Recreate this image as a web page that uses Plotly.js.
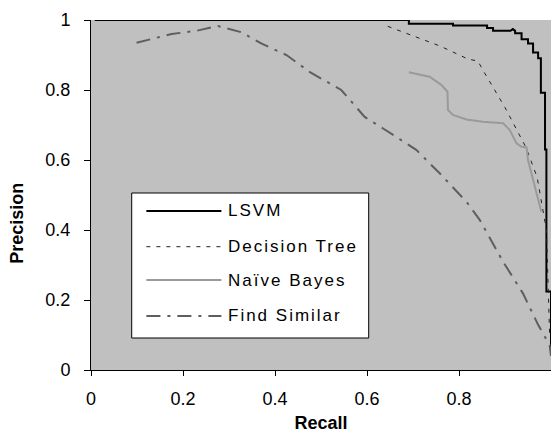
<!DOCTYPE html>
<html>
<head>
<meta charset="utf-8">
<script src="https://cdn.plot.ly/plotly-3.0.1.min.js"></script>
<style>
html,body{margin:0;padding:0;background:#fff;}
#chart{width:551px;height:433px;}
</style>
</head>
<body>
<div id="chart"></div>
<script>
// ---- data ----
const seriesNames = ["LSVM", "Decision Tree", "Naïve Bayes", "Find Similar"];

const lsvmRecall    = [0.008, 0.691, 0.691, 0.787, 0.787, 0.861, 0.861, 0.874, 0.874, 0.912, 0.917, 0.922, 0.922, 0.936, 0.936, 0.950, 0.950, 0.961, 0.961, 0.972, 0.972, 0.978, 0.978, 0.987, 0.987, 0.990, 0.990, 1.000, 1.000];
const lsvmPrecision = [1.000, 1.000, 0.989, 0.989, 0.984, 0.984, 0.977, 0.977, 0.969, 0.969, 0.974, 0.969, 0.962, 0.962, 0.945, 0.945, 0.933, 0.933, 0.907, 0.907, 0.891, 0.891, 0.792, 0.792, 0.630, 0.630, 0.224, 0.224, 0.050];

const dtRecall    = [0.645, 0.700, 0.760, 0.820, 0.841, 0.851, 0.900, 0.946, 0.970, 0.990, 0.997];
const dtPrecision = [0.982, 0.955, 0.925, 0.888, 0.883, 0.859, 0.750, 0.635, 0.550, 0.400, 0.100];

const nbRecall    = [0.691, 0.736, 0.762, 0.775, 0.776, 0.787, 0.816, 0.852, 0.896, 0.910, 0.925, 0.936, 0.947, 0.950, 0.979];
const nbPrecision = [0.851, 0.838, 0.814, 0.795, 0.743, 0.729, 0.716, 0.709, 0.705, 0.686, 0.648, 0.638, 0.636, 0.600, 0.452];

const fsRecall    = [0.099, 0.128, 0.175, 0.229, 0.276, 0.327, 0.370, 0.425, 0.476, 0.544, 0.595, 0.635, 0.707, 0.758, 0.816, 0.845, 0.896, 0.939, 0.972, 0.997, 1.000];
const fsPrecision = [0.935, 0.945, 0.960, 0.969, 0.983, 0.965, 0.933, 0.900, 0.851, 0.800, 0.723, 0.690, 0.629, 0.562, 0.481, 0.429, 0.309, 0.219, 0.129, 0.071, 0.040];

const tickVals   = [0, 0.2, 0.4, 0.6, 0.8, 1];
const tickLabels = ["0", "0.2", "0.4", "0.6", "0.8", "1"];
const xTitle = "Recall";
const yTitle = "Precision";

// ---- styles ----
const FONT = "'Liberation Sans', Arial, sans-serif";
const styles = [
  {color: "#000000", width: 2,   dash: "solid"},
  {color: "#222222", width: 1,   dash: "4px,6px"},
  {color: "#9a9a9a", width: 2,   dash: "solid"},
  {color: "#5e5e5e", width: 2,   dash: "14px,7px,3px,7px"}
];

const xs = [lsvmRecall, dtRecall, nbRecall, fsRecall];
const ys = [lsvmPrecision, dtPrecision, nbPrecision, fsPrecision];

const traces = seriesNames.map((n, i) => ({
  type: "scatter", mode: "lines", name: n,
  x: xs[i], y: ys[i],
  line: {color: styles[i].color, width: styles[i].width, dash: styles[i].dash},
  showlegend: false, hoverinfo: "skip"
}));

// manual legend (box, line samples, labels) in paper coordinates
const legBox = {x0: 0.0885, x1: 0.6037, y0: 0.0914, y1: 0.5057};
const legRows = [0.4543, 0.3523, 0.2571, 0.1543];
const shapes = [{
  type: "rect", xref: "paper", yref: "paper",
  x0: legBox.x0, x1: legBox.x1, y0: legBox.y0, y1: legBox.y1,
  fillcolor: "#ffffff", line: {color: "#000000", width: 1}, layer: "above"
}];
const annotations = [];
seriesNames.forEach((n, i) => {
  shapes.push({
    type: "line", xref: "paper", yref: "paper",
    x0: 0.1204, x1: 0.2835, y0: legRows[i], y1: legRows[i],
    line: {color: styles[i].color, width: styles[i].width, dash: styles[i].dash}, layer: "above"
  });
  annotations.push({
    xref: "paper", yref: "paper", x: 0.2930, y: legRows[i],
    xanchor: "left", yanchor: "middle", showarrow: false,
    text: '<span style="letter-spacing:2px">' + n + '</span>',
    font: {family: FONT, size: 17, color: "#000"}
  });
});
// y-axis title (sits slightly below the plot centre in the reference)
annotations.push({
  xref: "paper", yref: "paper", x: -0.1615, y: 0.42,
  xanchor: "center", yanchor: "middle", showarrow: false, textangle: -90,
  text: "<b>" + yTitle + "</b>", font: {family: FONT, size: 18, color: "#000"}
});

const layout = {
  width: 551, height: 433,
  margin: {l: 91, r: 0, t: 20, b: 63, pad: 0},
  paper_bgcolor: "#ffffff",
  plot_bgcolor: "#c0c0c0",
  font: {family: FONT, size: 18, color: "#000"},
  showlegend: false,
  xaxis: {
    range: [0, 1], tickvals: tickVals, ticktext: tickLabels,
    showline: true, linecolor: "#000", linewidth: 1,
    ticks: "outside", ticklen: 5, tickcolor: "#000", tickwidth: 1,
    ticklabelstandoff: 7,
    showgrid: false, zeroline: false, fixedrange: true,
    tickfont: {family: FONT, size: 18},
    title: {text: "<b>" + xTitle + "</b>", font: {family: FONT, size: 18}, standoff: 11}
  },
  yaxis: {
    range: [0, 1], tickvals: tickVals, ticktext: tickLabels,
    showline: true, linecolor: "#000", linewidth: 1,
    ticks: "outside", ticklen: 6, tickcolor: "#000", tickwidth: 1,
    ticklabelstandoff: 10,
    showgrid: false, zeroline: false, fixedrange: true,
    tickfont: {family: FONT, size: 18}
  },
  shapes: shapes,
  annotations: annotations
};

Plotly.newPlot("chart", traces, layout, {staticPlot: true, displayModeBar: false});
</script>
</body>
</html>
